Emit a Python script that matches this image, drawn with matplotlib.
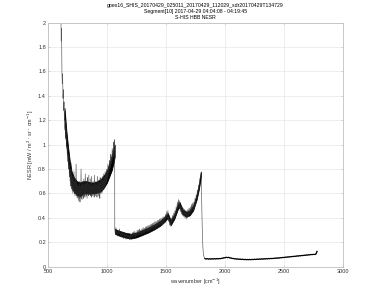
import numpy as np
import matplotlib
matplotlib.use("Agg")
import matplotlib.pyplot as plt

plt.rcParams['font.family'] = ['Liberation Sans', 'DejaVu Sans']

title_lines = ["goes16_SHIS_20170429_025011_20170429_112029_sdr20170429T134729",
               "Segment[10] 2017-04-29 04:04:08 - 04:19:45",
               "S-HIS HBB NESR"]
xlabel = "wavenumber [cm$^{-1}$]"
ylabel = "NESR [mW / m$^2$ $\\cdot$ sr $\\cdot$ cm$^{-1}$]"
xticks = [500, 1000, 1500, 2000, 2500, 3000]
yticks = [0, 0.2, 0.4, 0.6, 0.8, 1, 1.2, 1.4, 1.6, 1.8, 2]
ytick_labels = ["0", "0.2", "0.4", "0.6", "0.8", "1", "1.2", "1.4", "1.6", "1.8", "2"]

# Band 1 (longwave), wavenumber 606..1065
band1_range = (606, 1065)
band1 = [2.4, 2.1, 1.85, 1.95, 1.6, 1.5, 1.58, 1.38, 1.45, 1.28, 1.35, 1.2, 1.27, 1.12, 1.2,
         1.05, 1.12, 0.98, 1.04, 0.93, 0.99, 0.86, 0.92, 0.8, 0.88, 0.74, 0.83, 0.7, 0.8, 0.66,
         0.85, 0.64, 0.76, 0.62, 0.74, 0.6, 0.72, 0.62, 0.78, 0.6, 0.7, 0.58, 0.72, 0.6, 0.84,
         0.58, 0.69, 0.56, 0.68, 0.57, 0.66, 0.54, 0.68, 0.56, 0.7, 0.53, 0.66, 0.57, 0.8, 0.56,
         0.68, 0.55, 0.7, 0.58, 0.67, 0.56, 0.72, 0.58, 0.68, 0.57, 0.76, 0.6, 0.68, 0.58, 0.7,
         0.56, 0.73, 0.6, 0.67, 0.58, 0.75, 0.59, 0.68, 0.6, 0.72, 0.58, 0.66, 0.57, 0.74, 0.6,
         0.68, 0.58, 0.7, 0.6, 0.66, 0.57, 0.75, 0.6, 0.68, 0.58, 0.7, 0.6, 0.67, 0.57, 0.74,
         0.6, 0.69, 0.58, 0.71, 0.6, 0.68, 0.56, 0.73, 0.6, 0.7, 0.61, 0.72, 0.6, 0.74, 0.62,
         0.71, 0.63, 0.76, 0.64, 0.73, 0.66, 0.78, 0.67, 0.75, 0.69, 0.8, 0.7, 0.78, 0.72, 0.84,
         0.74, 0.82, 0.77, 0.87, 0.8, 0.86, 0.81, 0.92, 0.84, 0.9, 0.86, 0.97, 0.88, 0.95, 0.9,
         1.02, 0.93, 1.04, 0.97]

# Dense core of band 1 (lower / upper edges of the dark band)
env1_wn = [640, 655, 670, 685, 700, 720, 745, 770, 800, 830, 860, 890, 920, 950, 975, 1000,
           1020, 1040, 1055, 1065]
env1_lo = [1.15, 1.0, 0.86, 0.74, 0.66, 0.61, 0.59, 0.58, 0.6, 0.6, 0.6, 0.6, 0.61, 0.62,
           0.65, 0.69, 0.74, 0.79, 0.85, 0.9]
env1_hi = [1.3, 1.12, 0.98, 0.86, 0.78, 0.73, 0.7, 0.69, 0.7, 0.7, 0.69, 0.69, 0.7, 0.72,
           0.75, 0.79, 0.84, 0.9, 0.96, 1.0]

# Band 2 (midwave), wavenumber 1066..1796
band2_range = (1066, 1796)
band2 = [0.31, 0.27, 0.32, 0.26, 0.30, 0.25, 0.29, 0.27, 0.31, 0.25, 0.28, 0.24, 0.29, 0.25,
         0.28, 0.23, 0.28, 0.24, 0.27, 0.225, 0.27, 0.23, 0.275, 0.24, 0.26, 0.22, 0.27, 0.23,
         0.265, 0.235, 0.28, 0.24, 0.285, 0.245, 0.29, 0.24, 0.28, 0.25, 0.30, 0.25, 0.30, 0.255,
         0.31, 0.26, 0.30, 0.26, 0.31, 0.265, 0.32, 0.27, 0.315, 0.27, 0.325, 0.28, 0.33, 0.28,
         0.335, 0.285, 0.34, 0.29, 0.345, 0.29, 0.35, 0.30, 0.355, 0.30, 0.36, 0.31, 0.37, 0.31,
         0.37, 0.315, 0.38, 0.32, 0.38, 0.325, 0.39, 0.33, 0.395, 0.335, 0.40, 0.34, 0.41, 0.35,
         0.41, 0.36, 0.43, 0.38, 0.45, 0.39, 0.46, 0.37, 0.41, 0.34, 0.39, 0.33, 0.40, 0.35, 0.42,
         0.37, 0.44, 0.39, 0.46, 0.41, 0.49, 0.44, 0.53, 0.47, 0.55, 0.48, 0.54, 0.45, 0.50, 0.43,
         0.49, 0.42, 0.48, 0.41, 0.47, 0.40, 0.46, 0.39, 0.46, 0.40, 0.47, 0.41, 0.48, 0.42, 0.49,
         0.43, 0.51, 0.45, 0.52, 0.46, 0.53, 0.48, 0.56, 0.51, 0.59, 0.55, 0.63, 0.59, 0.67, 0.65,
         0.72, 0.73, 0.77]

# Dense core of band 2
env2_wn = [1066, 1100, 1150, 1200, 1250, 1300, 1350, 1400, 1450, 1490, 1515, 1540, 1570, 1600,
           1615, 1640, 1670, 1700, 1730, 1760, 1780, 1796]
env2_lo = [0.27, 0.255, 0.24, 0.23, 0.24, 0.26, 0.28, 0.305, 0.335, 0.37, 0.40, 0.34, 0.39,
           0.47, 0.49, 0.43, 0.41, 0.42, 0.46, 0.55, 0.64, 0.74]
env2_hi = [0.31, 0.295, 0.28, 0.27, 0.28, 0.30, 0.32, 0.345, 0.375, 0.41, 0.44, 0.38, 0.43,
           0.51, 0.53, 0.47, 0.45, 0.46, 0.50, 0.59, 0.68, 0.78]

# Drop from band 2 into band 3
drop_wn = [1800, 1804, 1808, 1812, 1816, 1822, 1828]
drop_val = [0.68, 0.45, 0.28, 0.17, 0.11, 0.08, 0.068]

# Band 3 (shortwave), wavenumber 1830..2780
band3_range = (1830, 2780)
band3 = [0.066, 0.063, 0.066, 0.062, 0.065, 0.062, 0.065, 0.063, 0.066, 0.063, 0.066, 0.064,
         0.067, 0.065, 0.069, 0.069, 0.073, 0.073, 0.077, 0.074, 0.077, 0.072, 0.072, 0.067,
         0.068, 0.064, 0.065, 0.062, 0.063, 0.061, 0.062, 0.059, 0.061, 0.058, 0.06, 0.057,
         0.059, 0.057, 0.06, 0.057, 0.06, 0.058, 0.061, 0.059, 0.062, 0.06, 0.063, 0.061, 0.064,
         0.062, 0.065, 0.063, 0.066, 0.064, 0.067, 0.065, 0.068, 0.066, 0.069, 0.068, 0.071,
         0.069, 0.072, 0.071, 0.074, 0.073, 0.076, 0.075, 0.078, 0.077, 0.08, 0.079, 0.082,
         0.081, 0.084, 0.083, 0.086, 0.085, 0.088, 0.087, 0.09, 0.089, 0.092, 0.091, 0.094,
         0.093, 0.096, 0.095, 0.098, 0.097, 0.1, 0.099, 0.101, 0.1, 0.103, 0.125]

wn1 = np.linspace(band1_range[0], band1_range[1], len(band1))
wn2 = np.linspace(band2_range[0], band2_range[1], len(band2))
wn3 = np.linspace(band3_range[0], band3_range[1], len(band3))

wn = np.concatenate([wn1, wn2, drop_wn, wn3])
nesr = np.concatenate([band1, band2, drop_val, band3])

fig = plt.figure(figsize=(3.75, 3.01), dpi=100)
ax = fig.add_axes([0.128, 0.114, 0.7867, 0.811])

ax.fill_between(env1_wn, env1_lo, env1_hi, color='black', linewidth=0.6, edgecolor='black')
ax.fill_between(env2_wn, env2_lo, env2_hi, color='black', linewidth=0.5, edgecolor='black')
ax.plot(wn, nesr, color='#2a2a2a', linewidth=0.45, alpha=0.8)
ax.plot(wn3, band3, color='black', linewidth=0.9)

ax.set_xlim(500, 3000)
ax.set_ylim(0, 2)
ax.set_xticks(xticks)
ax.set_xticklabels([str(t) for t in xticks])
ax.set_yticks(yticks)
ax.set_yticklabels(ytick_labels)
ax.grid(True, color='#e8e8e8', linewidth=0.5)
ax.set_axisbelow(True)
ax.tick_params(axis='both', direction='in', length=1.5, width=0.4, labelsize=4,
               colors='#bfbfbf', labelcolor='#333333', pad=1.5, top=True, right=True)
for s in ax.spines.values():
    s.set_linewidth(0.6)
    s.set_color('#c0c0c0')
ax.set_xlabel(xlabel, fontsize=4, color='#333333', labelpad=2)
ax.set_ylabel(ylabel, fontsize=4, color='#333333', labelpad=1.5)
ax.set_title("\n".join(title_lines), fontsize=3.7, linespacing=1.3, pad=2.5, color='black')

fig.savefig("out.png", dpi=100)
